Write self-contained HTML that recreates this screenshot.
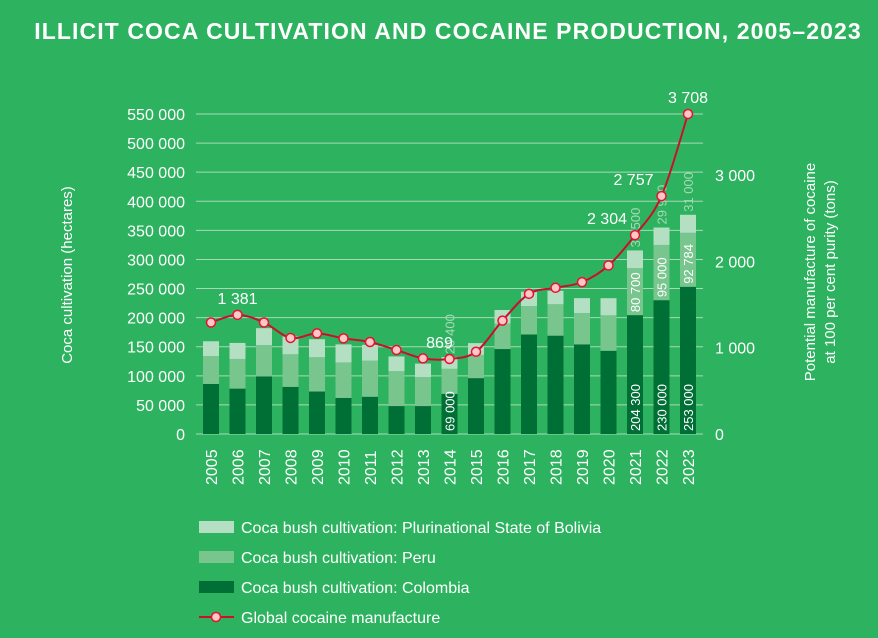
<!DOCTYPE html>
<html><head><meta charset="utf-8"><style>
body{margin:0;background:#2db35f;}
svg{display:block;font-family:"Liberation Sans",sans-serif;}
</style></head><body>
<svg id="c" width="878" height="638">
<rect width="878" height="638" fill="#2db35f"/>
<text x="448" y="39" text-anchor="middle" fill="#fff" font-size="23" font-weight="bold" letter-spacing="1.1">ILLICIT COCA CULTIVATION AND COCAINE PRODUCTION, 2005–2023</text>
<text transform="translate(72,275) rotate(-90)" text-anchor="middle" fill="#fff" font-size="15">Coca cultivation (hectares)</text>
<text transform="translate(815,272) rotate(-90)" text-anchor="middle" fill="#fff" font-size="15"><tspan x="0" dy="0">Potential manufacture of cocaine</tspan><tspan x="0" dy="20">at 100 per cent purity (tons)</tspan></text>
<g id="grid"></g><g id="bars"></g><g id="line"></g><g id="axes"></g>
<g id="legend"></g>
</svg>
<script>
const years=["2005","2006","2007","2008","2009","2010","2011","2012","2013","2014","2015","2016","2017","2018","2019","2020","2021","2022","2023"];
const colombia=[86000,78000,99000,81000,73000,62000,64000,48000,48000,69000,96000,146000,171000,169000,154000,143000,204300,230000,253000];
const peru=[48000,51000,54000,56000,59000,61000,62000,60000,50000,43000,40000,44000,49000,54000,54000,61000,80700,95000,92784];
const bolivia=[25400,27500,28900,30500,30900,31000,27200,25300,23000,20400,20200,23100,24500,23100,25500,29400,30500,29900,31000];
const cocaine=[1292,1381,1292,1113,1166,1108,1066,973,876,869,953,1314,1624,1694,1760,1953,2304,2757,3708];
const leftTicks=[0,50000,100000,150000,200000,250000,300000,350000,400000,450000,500000,550000];
const rightTicks=[0,1000,2000,3000];
const lineLabels={1:"1 381",9:"869",16:"2 304",17:"2 757",18:"3 708"};
const colLabels={9:"69 000",16:"204 300",17:"230 000",18:"253 000"};
const peruLabels={16:"80 700",17:"95 000",18:"92 784"};
const bolLabels={9:"20 400",16:"30 500",17:"29 900",18:"31 000"};
const NS="http://www.w3.org/2000/svg";
const baseY=434, topY=114;
const yL=v=>baseY-v*(baseY-topY)/550000;
const yR=v=>baseY-v*(baseY-topY)/3708;
const xC=i=>211+i*26.5;
function el(t,a,p,txt){const e=document.createElementNS(NS,t);for(const k in a)e.setAttribute(k,a[k]);if(txt!==undefined)e.textContent=txt;document.getElementById(p).appendChild(e);return e;}
leftTicks.forEach(v=>{
 const g=el("line",{x1:196,x2:703,y1:yL(v),y2:yL(v),stroke:"#a8d8b5","stroke-width":1},"grid");
 
 
 const t=el("text",{x:185,y:yL(v)+6,"text-anchor":"end",fill:"#fff","font-size":16},"axes",v===0?"0":(v/1000)+" 000");
 
 
});
rightTicks.forEach(v=>{
 const t=el("text",{x:715,y:yR(v)+6,fill:"#fff","font-size":16},"axes",v===0?"0":(v/1000)+" 000");
 
 
});
years.forEach((y,i)=>{
 const x=xC(i),w=16;
 const c0=yL(colombia[i]),p0=yL(colombia[i]+peru[i]),b0=yL(colombia[i]+peru[i]+bolivia[i]);
 let r=el("rect",{x:x-w/2,y:c0,width:w,height:baseY-c0,fill:"#006f35"},"bars");
 
 
 r=el("rect",{x:x-w/2,y:p0,width:w,height:c0-p0,fill:"#78c68d"},"bars");
 
 
 r=el("rect",{x:x-w/2,y:b0,width:w,height:p0-b0,fill:"#b5dfc3"},"bars");
 
 
 const t=el("text",{transform:`translate(${x+6},485) rotate(-90)`,fill:"#fff","font-size":16},"axes",y);
 
 
 if(colLabels[i]){const l=el("text",{transform:`translate(${x+5},${baseY-3}) rotate(-90)`,fill:"#fff","font-size":13},"bars",colLabels[i]);}
 if(peruLabels[i]){const l=el("text",{transform:`translate(${x+5},${c0-3}) rotate(-90)`,fill:"#fff","font-size":13},"bars",peruLabels[i]);}
 if(bolLabels[i]){const l=el("text",{transform:`translate(${x+5},${b0-3}) rotate(-90)`,fill:"#a8d8b5","font-size":13},"bars",bolLabels[i]);}
});
const pts=cocaine.map((v,i)=>[xC(i),yR(v)]);
let d="M"+pts[0][0]+","+pts[0][1];
for(let i=1;i<pts.length;i++){const p0=pts[i-1],p1=pts[i],pm=pts[i-2]||p0,pn=pts[i+1]||p1;
 d+=` C${p0[0]+(p1[0]-pm[0])/6},${p0[1]+(p1[1]-pm[1])/6} ${p1[0]-(pn[0]-p0[0])/6},${p1[1]-(pn[1]-p0[1])/6} ${p1[0]},${p1[1]}`;}
const ln=el("path",{d:d,fill:"none",stroke:"#c8102e","stroke-width":2},"line");


pts.forEach((p,i)=>{
 const c=el("circle",{cx:p[0],cy:p[1],r:4.5,fill:"#ffc8c8",stroke:"#e8102e","stroke-width":1.5},"line");
 
 
 if(lineLabels[i]){const t=el("text",{x:i===18?p[0]:p[0]-8,y:p[1]-11,"text-anchor":i===18?"middle":"end",fill:"#fff","font-size":16},"line",lineLabels[i]);
  if(i===1||i===9){t.setAttribute("text-anchor","middle");t.setAttribute("x",p[0]+(i===9?-10:0));}
  
  }
});
const leg=[["#b5dfc3","Coca bush cultivation: Plurinational State of Bolivia"],["#78c68d","Coca bush cultivation: Peru"],["#006f35","Coca bush cultivation: Colombia"]];
leg.forEach((l,i)=>{const y=527+i*30;
 const r=el("rect",{x:199,y:y-6,width:35,height:12,fill:l[0]},"legend");
 
 
 const t=el("text",{x:241,y:y+6,fill:"#fff","font-size":16},"legend",l[1]);
 
 
});
let a=el("line",{x1:199,x2:234,y1:617,y2:617,stroke:"#c8102e","stroke-width":2},"legend");


a=el("circle",{cx:216,cy:617,r:4.5,fill:"#ffc8c8",stroke:"#e8102e","stroke-width":1.5},"legend");


a=el("text",{x:241,y:623,fill:"#fff","font-size":16},"legend","Global cocaine manufacture");


</script>
</body></html>
